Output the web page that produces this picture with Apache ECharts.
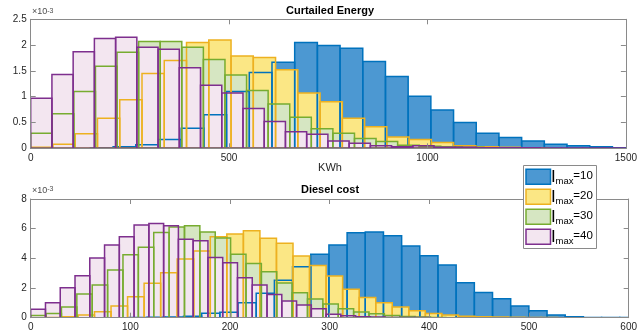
<!DOCTYPE html>
<html><head><meta charset="utf-8">
<script src="https://cdn.jsdelivr.net/npm/echarts@6/dist/echarts.min.js"></script>
<style>html,body{margin:0;padding:0;background:#fff}#c{width:640px;height:336px}</style>
</head><body><div id="c"></div>
<script>
// ---- Data (heights in units of 1e-3) ----
// Top: Curtailed Energy (KWh)
const topBlueStart = 150.5, topBlueWidth = 57.2;
const topBlue = [0.01,0.03,0.07,0.17,0.39,0.65,1.10,1.47,1.67,2.05,1.99,1.94,1.68,1.39,1.01,0.74,0.50,0.29,0.21,0.14,0.08,0.05,0.03,0.01];
const topYellowStart = 0, topYellowWidth = 56.1;
const topYellow = [0.02,0.08,0.28,0.58,0.94,1.45,1.70,2.05,2.10,1.79,1.76,1.52,1.07,0.90,0.58,0.42,0.22,0.17,0.11,0.05,0.03,0.02,0.01];
const topGreenStart = 0, topGreenWidth = 54.4;
const topGreen = [0.29,0.67,1.10,1.59,1.86,2.07,2.07,1.96,1.72,1.42,1.12,0.86,0.60,0.38,0.29,0.19,0.13,0.06,0.04,0.03,0.02,0.01,0.01,0.005];
const topPurpleStart = 0, topPurpleWidth = 53.5;
const topPurple = [0.97,1.43,1.87,2.13,2.15,1.96,1.92,1.56,1.22,1.07,0.77,0.52,0.32,0.27,0.14,0.10,0.05,0.03,0.05,0.02,0.02,0.01,0.01,0.01,0.008,0.008,0.008,0.008];
// Bottom: Diesel cost
const botBlueStart = 98.6, botBlueWidth = 18.24;
const botBlue = [0.02,0.03,0.05,0.10,0.30,0.36,1.01,1.64,2.52,3.44,4.27,4.90,5.73,5.78,5.52,4.83,4.17,3.55,2.36,1.70,1.27,0.79,0.46,0.18,0.07,0.02,0.01,0.01];
const botYellowStart = 14.2, botYellowWidth = 16.6;
const botYellow = [0.02,0.07,0.18,0.40,0.79,1.42,2.32,3.03,3.96,4.49,5.46,5.64,5.86,5.35,5.01,4.16,3.52,2.81,1.91,1.36,1.01,0.72,0.47,0.28,0.18,0.10,0.06,0.04,0.03,0.02,0.01];
const botGreenStart = 0, botGreenWidth = 15.43;
const botGreen = [0.15,0.28,0.72,1.60,2.20,3.22,4.25,4.75,5.74,6.12,6.20,5.77,5.37,4.27,3.66,3.10,2.34,1.68,1.26,0.92,0.61,0.38,0.27,0.14,0.08,0.04,0.02];
const botPurpleStart = 0, botPurpleWidth = 14.82;
const botPurple = [0.57,1.01,2.02,2.83,4.02,4.90,5.46,6.25,6.35,6.20,5.28,5.18,4.05,3.71,2.70,2.20,1.57,1.13,0.86,0.60,0.23,0.13,0.06,0.04,0.02,0.01,0.01];

const legendLabels = ['10','20','30','40'];
const topTicksX = [0,1500,500], topTicksY = [0,2.5,0.5];
const botTicksX = [0,600,100], botTicksY = [0,8,2];

// ---- Styles ----
const edgeCols = ['#0072BD','#EDB120','#77AC30','#7E2F8E'];
const faceCols = ['#4c98d2','#fbe785','#d6e6c2','#f3e6f0'];
const FONT = 'Liberation Sans, Arial, sans-serif';

function bins(start, width, vals){ return vals.map((v,i)=>[start+i*width, start+(i+1)*width, v]); }
function histSeries(gi, data, idx, mode){
  return {
    type:'custom', xAxisIndex: gi*2, yAxisIndex: gi*2, clip:true, z: mode==='fill'?2:3,
    encode:{x:[0,1], y:2}, data: data, silent:true, animation:false,
    renderItem:function(params, api){
      const p0 = api.coord([api.value(0), 0]);
      const p1 = api.coord([api.value(1), api.value(2)]);
      const style = mode==='fill' ? {fill: faceCols[idx], stroke:null}
                                  : {fill:'none', stroke: edgeCols[idx], lineWidth:1.5};
      return {type:'rect', shape:{x:p0[0], y:p1[1], width:p1[0]-p0[0], height:p0[1]-p1[1]}, style: style};
    }
  };
}
const groups = [
  [bins(topBlueStart,topBlueWidth,topBlue), bins(topYellowStart,topYellowWidth,topYellow), bins(topGreenStart,topGreenWidth,topGreen), bins(topPurpleStart,topPurpleWidth,topPurple)],
  [bins(botBlueStart,botBlueWidth,botBlue), bins(botYellowStart,botYellowWidth,botYellow), bins(botGreenStart,botGreenWidth,botGreen), bins(botPurpleStart,botPurpleWidth,botPurple)]
];
const series = [];
groups.forEach((g,gi)=>{
  g.forEach((d,i)=>series.push(histSeries(gi,d,i,'fill')));
  g.forEach((d,i)=>series.push(histSeries(gi,d,i,'edge')));
});

const axisLineStyle = {color:'#8a8a8a', width:1};
const labelStyle = {color:'#262626', fontSize:10, fontFamily:FONT};
const plainNum = v => String(v);
function xAx(gi, t, pos, lab){
  return {type:'value', gridIndex:gi, position:pos, min:t[0], max:t[1], interval:t[2], z:10,
    axisLine:{show:true, onZero:false, lineStyle:axisLineStyle},
    axisTick:{show:true, inside:true, length:5, lineStyle:axisLineStyle},
    axisLabel:{show:lab, margin:5, formatter:plainNum, ...labelStyle}, splitLine:{show:false}};
}
function yAx(gi, t, pos, lab){
  return {type:'value', gridIndex:gi, position:pos, min:t[0], max:t[1], interval:t[2], z:10,
    axisLine:{show:true, onZero:false, lineStyle:axisLineStyle},
    axisTick:{show:true, inside:true, length:5, lineStyle:axisLineStyle},
    axisLabel:{show:lab, margin:4, formatter:plainNum, ...labelStyle}, splitLine:{show:false}};
}

const expRich = {a:{fontSize:9, fontFamily:FONT, lineHeight:9, padding:[4,0,0,0], verticalAlign:'bottom', fill:'#4d4d4d'}, b:{fontSize:7, fontFamily:FONT, lineHeight:7, verticalAlign:'top', fill:'#4d4d4d'}};
const graphics = [
  {type:'text', x:330, y:11, z:20, style:{text:'Curtailed Energy', font:'bold 11px '+FONT, fill:'#000', textAlign:'center', textVerticalAlign:'middle'}},
  {type:'text', x:330, y:190, z:20, style:{text:'Diesel cost', font:'bold 11px '+FONT, fill:'#000', textAlign:'center', textVerticalAlign:'middle'}},
  {type:'text', x:330, y:167.5, z:20, style:{text:'KWh', font:'11px '+FONT, fill:'#262626', textAlign:'center', textVerticalAlign:'middle'}},
  {type:'text', x:32, y:12, z:20, style:{text:'{a|×10}{b|-3}', textAlign:'left', textVerticalAlign:'middle', fill:'#4d4d4d', rich:expRich}},
  {type:'text', x:32, y:190.5, z:20, style:{text:'{a|×10}{b|-3}', textAlign:'left', textVerticalAlign:'middle', fill:'#4d4d4d', rich:expRich}},
  {type:'rect', z:30, shape:{x:523.5, y:165.5, width:73, height:83}, style:{fill:'#fff', stroke:'#8a8a8a', lineWidth:1}}
];
legendLabels.forEach((lab,i)=>{
  const cy = 176.7 + i*20;
  graphics.push({type:'rect', z:31, shape:{x:526, y:cy-7.5, width:24.5, height:15}, style:{fill:faceCols[i], stroke:edgeCols[i], lineWidth:1.5}});
  graphics.push({type:'text', z:31, x:551, y:cy+0.4, style:{text:'I', font:'17px '+FONT, fill:'#000', textAlign:'left', textVerticalAlign:'middle'}});
  graphics.push({type:'text', z:31, x:555.5, y:cy+5, style:{text:'max', font:'9.5px '+FONT, fill:'#000', textAlign:'left', textVerticalAlign:'middle'}});
  graphics.push({type:'text', z:31, x:573.3, y:cy-1.2, style:{text:'='+lab, font:'11.5px '+FONT, fill:'#000', textAlign:'left', textVerticalAlign:'middle'}});
});

const chart = echarts.init(document.getElementById('c'), null, {renderer:'canvas'});
chart.setOption({
  animation:false, backgroundColor:'#fff',
  grid:[{left:30.7, top:19.3, width:599.3, height:129},{left:30.7, top:199, width:599, height:118.7}],
  xAxis:[xAx(0,topTicksX,'bottom',true), xAx(0,topTicksX,'top',false), xAx(1,botTicksX,'bottom',true), xAx(1,botTicksX,'top',false)],
  yAxis:[yAx(0,topTicksY,'left',true), yAx(0,topTicksY,'right',false), yAx(1,botTicksY,'left',true), yAx(1,botTicksY,'right',false)],
  series: series,
  graphic: graphics
});
</script></body></html>
